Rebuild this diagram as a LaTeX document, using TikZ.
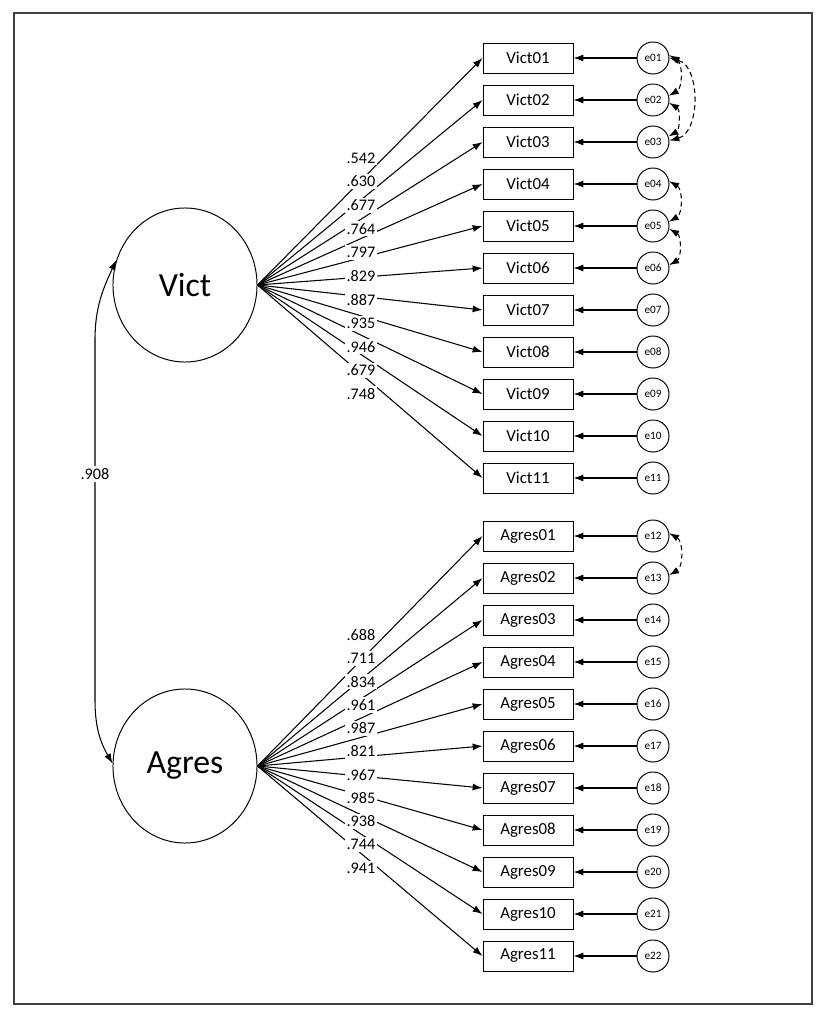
\documentclass[tikz,border=0pt]{standalone}
\usepackage{fontspec}
\setmainfont{Carlito}
\usetikzlibrary{arrows.meta,shapes.geometric,positioning}
\tikzset{
  latent/.style ={draw, ellipse, minimum width=3.6cm, minimum height=3.85cm,
                  inner sep=0pt, line width=0.7pt, font=\fontsize{24}{28}\selectfont},
  obsbox/.style ={draw, rectangle, minimum width=2.25cm, minimum height=0.75cm,
                  inner sep=0pt, line width=0.7pt, font=\fontsize{12}{14}\selectfont},
  errnode/.style={draw, circle, minimum size=0.8cm, inner sep=0pt, line width=0.7pt,
                  font=\fontsize{8}{9}\selectfont},
  loadlbl/.style={fill=white, inner sep=1.5pt, font=\fontsize{11.5}{13}\selectfont},
  arr/.style    ={-{Latex[length=7pt,width=5pt]}, line width=0.75pt},
  covarr/.style ={{Latex[length=7pt,width=5pt]}-{Latex[length=7pt,width=5pt]},
                  line width=0.75pt},
  dcov/.style   ={covarr, dash pattern=on 3.5pt off 2.5pt},
}
\begin{document}
\begin{tikzpicture}[x=0.025cm, y=0.025cm]
  \useasboundingbox (0,0) rectangle (826,-1025);
  \draw[line width=1.4pt, black!75] (14,-13) rectangle (812,-1004);

  \node[latent] (Vict)  at (185,-285) {Vict};
  \node[latent] (Agres) at (185,-766) {Agres};

  % indicators and error terms
  \foreach \i/\e [count=\k] in {01/01,02/02,03/03,04/04,05/05,06/06,07/07,08/08,09/09,10/10,11/11} {
    \node[obsbox]  (Vict\i) at (528,-16-42*\k) {Vict\i};
    \node[errnode] (e\e)    at (653,-16-42*\k) {e\e};
    \draw[arr] (e\e) -- (Vict\i);
    \draw[arr] (Vict.east) -- (Vict\i.west);
  }
  \foreach \i/\e [count=\k] in {01/12,02/13,03/14,04/15,05/16,06/17,07/18,08/19,09/20,10/21,11/22} {
    \node[obsbox]  (Agres\i) at (528,-494-42*\k) {Agres\i};
    \node[errnode] (e\e)     at (653,-494-42*\k) {e\e};
    \draw[arr] (e\e) -- (Agres\i);
    \draw[arr] (Agres.east) -- (Agres\i.west);
  }

  % loadings
  \foreach \lam [count=\k] in {.542,.630,.677,.764,.797,.829,.887,.935,.946,.679,.748}
    \node[loadlbl] (lv\k) at (361,-134.4-23.6*\k) {\lam};
  \foreach \lam [count=\k] in {.688,.711,.834,.961,.987,.821,.967,.985,.938,.744,.941}
    \node[loadlbl] (la\k) at (361,-611.7-23.3*\k) {\lam};

  % covariances
  \draw[covarr] (Vict.160) to[out=245,in=90] (95,-340) -- (95,-700)
                to[out=-90,in=120] (Agres.178);
  \node[loadlbl] (r) at (95,-474) {.908};

  \draw[dcov] (e01.10)  to[bend left=60] (e02.15);
  \draw[dcov] (e02.-10) to[bend left=60] (e03.20);
  \draw[dcov] (e01.0)   to[bend left=75] (e03.5);
  \draw[dcov] (e04.10)  to[bend left=60] (e05.15);
  \draw[dcov] (e05.-10) to[bend left=60] (e06.10);
  \draw[dcov] (e12.10)  to[bend left=60] (e13.10);
\end{tikzpicture}
\end{document}
